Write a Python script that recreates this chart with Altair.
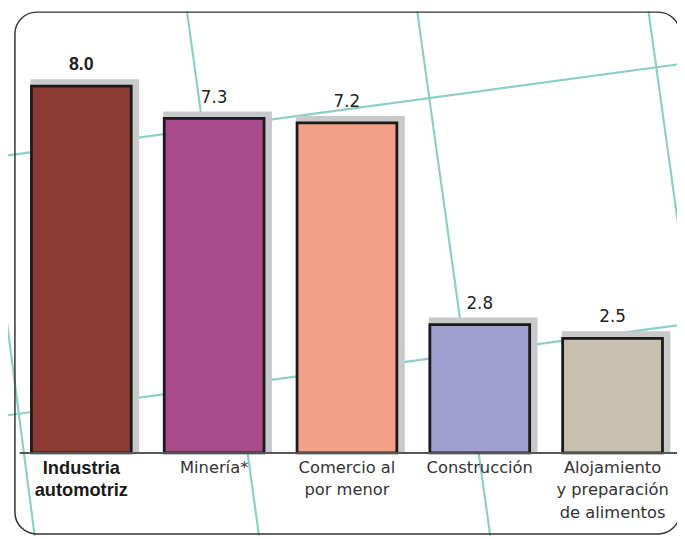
import altair as alt
import pandas as pd

# ---- data ----
sectors = ["Industria automotriz", "Minería*", "Comercio al por menor",
           "Construcción", "Alojamiento y preparación de alimentos"]
axis_labels = ["Industria\nautomotriz", "Minería*", "Comercio al\npor menor",
               "Construcción", "Alojamiento\ny preparación\nde alimentos"]
values = [8.0, 7.3, 7.2, 2.8, 2.5]
bar_colors = ["#8e3a34", "#a94b8a", "#f4a086", "#a09fcf", "#c9bfae"]

# decorative background guide lines (chart-space endpoints)
deco_x1 = [-43, 180, 413, 647, -8, -8]
deco_y1 = [-8, -8, -8, -8, 147, 410]
deco_x2 = [27, 254, 488, 722, 677, 677]
deco_y2 = [531, 531, 531, 531, 54, 318]

df = pd.DataFrame({"sector": sectors, "label": axis_labels, "value": values,
                   "zero": [0.0] * len(values)})
deco = pd.DataFrame({"x1": deco_x1, "y1": deco_y1, "x2": deco_x2, "y2": deco_y2})
frame = pd.DataFrame({"x1": [7], "y1": [1], "x2": [680], "y2": [529]})

W, H = 677, 531

dx = alt.Scale(domain=[0, W], range=[0, W])
dy = alt.Scale(domain=[0, H], range=[0, H])

lines = alt.Chart(deco).mark_rule(color="#8ad0c5", strokeWidth=2.2, clip=True).encode(
    x=alt.X("x1:Q", scale=dx, axis=None),
    y=alt.Y("y1:Q", scale=dy, axis=None),
    x2="x2:Q", y2="y2:Q",
)
border = alt.Chart(frame).mark_rect(fillOpacity=0, stroke="#333333", strokeWidth=1.5,
                                    cornerRadius=22).encode(
    x=alt.X("x1:Q", scale=dx, axis=None),
    y=alt.Y("y1:Q", scale=dy, axis=None),
    x2="x2:Q", y2="y2:Q",
)

xscale = alt.Scale(domain=sectors, range=[7, 679], paddingInner=0, paddingOuter=0)
yscale = alt.Scale(domain=[0, 8], range=[447, 76])
xs = alt.X("sector:N", scale=xscale, axis=None)
ys = alt.Y("value:Q", scale=yscale, axis=None)
yz = alt.Y("zero:Q", scale=yscale, axis=None)

base = alt.Chart(df)
shadow = base.mark_bar(color="#c8c9ca", size=110, xOffset=3.5, yOffset=-7, y2Offset=0).encode(
    x=xs, y=ys, y2="zero:Q")
bars = base.mark_bar(size=101, stroke="#1a1a1a", strokeWidth=2.8).encode(
    x=xs, y=ys, y2="zero:Q",
    color=alt.Color("sector:N", scale=alt.Scale(domain=sectors, range=bar_colors), legend=None),
)
baseline = base.mark_rule(color="#555555", strokeWidth=1.5).encode(
    y=yz, x=alt.value(12), x2=alt.value(W)
)
val_bold = base.transform_filter(alt.datum.sector == sectors[0]).mark_text(
    font="Liberation Sans", fontSize=18, fontWeight="bold", color="#222222", dy=-21, baseline="middle"
).encode(x=xs, y=ys, text=alt.Text("value:Q", format=".1f"))
val_norm = base.transform_filter(alt.datum.sector != sectors[0]).mark_text(
    font="DejaVu Sans", fontSize=17, color="#222222", dy=-21, baseline="middle"
).encode(x=xs, y=ys, text=alt.Text("value:Q", format=".1f"))
cat_bold = base.transform_filter(alt.datum.sector == sectors[0]).mark_text(
    font="Liberation Sans", fontSize=18.5, fontWeight="bold", color="#1a1a1a", baseline="middle",
    dy=15, lineBreak="\n", lineHeight=23, align="center"
).encode(x=xs, y=yz, text="label:N")
cat_norm = base.transform_filter(alt.datum.sector != sectors[0]).mark_text(
    font="DejaVu Sans", fontSize=16.5, color="#333333", baseline="middle",
    dy=15, lineBreak="\n", lineHeight=23, align="center"
).encode(x=xs, y=yz, text="label:N")

chart = alt.layer(
    lines, border, shadow, bars, baseline, val_bold, val_norm, cat_bold, cat_norm
).resolve_scale(
    x="independent", y="independent"
).properties(
    width=W, height=H, padding=0, autosize=alt.AutoSizeParams(type="none")
).configure_view(stroke=None)

chart.save("out.html", embed_options={"renderer": "svg", "actions": False})
